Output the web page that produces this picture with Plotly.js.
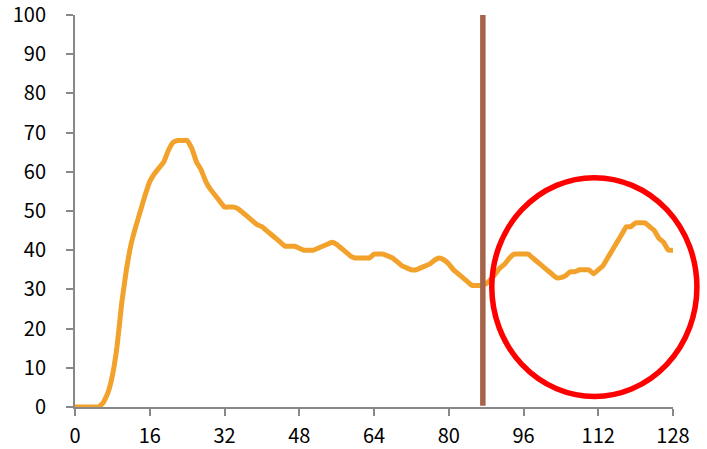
<!DOCTYPE html>
<html>
<head>
<meta charset="utf-8">
<script src="https://cdn.plot.ly/plotly-3.0.1.min.js"></script>
<style>html,body{margin:0;padding:0;background:#fff;}#chart{width:707px;height:449px;}</style>
</head>
<body>
<div id="chart"></div>
<script>
// Data
const xValues = [];
for (let i = 0; i <= 128; i++) xValues.push(i);
const yValues = [
  0, 0, 0, 0, 0, 0, 1, 3.5, 8, 15.5,
  26.5, 35, 41.5, 46, 50, 54, 57.5, 59.5, 61, 62.5,
  65.5, 67.5, 68, 68, 68, 66, 62.5, 60.5, 57.5, 55.5,
  54, 52.5, 51, 51, 51, 50.5, 49.5, 48.5, 47.5, 46.5,
  46, 45, 44, 43, 42, 41, 41, 41, 40.5, 40,
  40, 40, 40.5, 41, 41.5, 42, 41.5, 40.5, 39.5, 38.5,
  38, 38, 38, 38, 39, 39, 39, 38.5, 38, 37,
  36, 35.5, 35, 35, 35.5, 36, 36.5, 37.5, 38, 37.5,
  36.5, 35, 34, 33, 32, 31, 31, 31, 31.5, 32.5,
  34, 35.5, 36.5, 38, 39, 39, 39, 39, 38, 37,
  36, 35, 34, 33, 33, 33.5, 34.5, 34.5, 35, 35,
  35, 34, 35, 36, 38, 40, 42, 44, 46, 46,
  47, 47, 47, 46, 45, 43, 42, 40, 40
];
const xTicks = [0, 16, 32, 48, 64, 80, 96, 112, 128];
const yTicks = [0, 10, 20, 30, 40, 50, 60, 70, 80, 90, 100];
const markerX = 87.3;

const font = {family: '"Noto Sans CJK JP", "Noto Sans", sans-serif', size: 20, color: '#000'};

const trace = {
  x: xValues, y: yValues, type: 'scatter', mode: 'lines',
  line: {color: '#F2A12B', width: 5, shape: 'spline', smoothing: 0.3},
  cliponaxis: false, hoverinfo: 'skip'
};

const layout = {
  width: 707, height: 449,
  margin: {l: 75, r: 34, t: 15, b: 42},
  paper_bgcolor: '#fff', plot_bgcolor: '#fff',
  showlegend: false,
  font: font,
  xaxis: {
    range: [0, 128], tickmode: 'array', tickvals: xTicks, ticktext: xTicks.map(String),
    showline: true, linecolor: '#888', linewidth: 2, ticks: 'outside', ticklen: 7, tickcolor: '#888', tickwidth: 2,
    ticklabelstandoff: 3, ticklabeloverflow: 'allow',
    showgrid: false, zeroline: false, tickfont: font
  },
  yaxis: {
    range: [0, 100], tickmode: 'array', tickvals: yTicks, ticktext: yTicks.map(String),
    showline: true, linecolor: '#888', linewidth: 2, ticks: 'outside', ticklen: 7, tickcolor: '#888', tickwidth: 2,
    ticklabelstandoff: 16, ticklabeloverflow: 'allow',
    showgrid: false, zeroline: false, tickfont: font
  },
  shapes: [
    {type: 'line', xref: 'x', yref: 'y', x0: markerX, x1: markerX, y0: 0.3, y1: 100,
     line: {color: '#A5644A', width: 5.5}},
    {type: 'circle', xref: 'paper', yref: 'paper', x0: 0.697, x1: 1.040, y0: 0.027, y1: 0.585,
     line: {color: '#FF0000', width: 5.5}}
  ]
};

Plotly.newPlot('chart', [trace], layout, {staticPlot: true, displayModeBar: false});
</script>
</body>
</html>
